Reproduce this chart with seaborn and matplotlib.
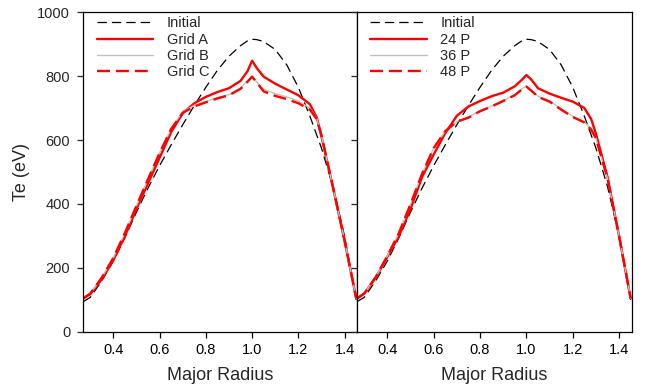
import matplotlib
matplotlib.use("Agg")
import matplotlib.pyplot as plt
import seaborn as sns
import pandas as pd

radius = [0.27, 0.30, 0.35, 0.40, 0.45, 0.50, 0.55, 0.60, 0.65, 0.70, 0.75, 0.80,
          0.85, 0.90, 0.95, 0.98, 1.00, 1.02, 1.05, 1.10, 1.15, 1.20, 1.25, 1.28,
          1.30, 1.35, 1.40, 1.45]

initial = [95, 108, 160, 222, 295, 375, 450, 520, 585, 648, 708, 765,
           818, 862, 895, 910, 915, 914, 908, 883, 835, 765, 675, 615,
           575, 455, 300, 100]

grid_a = [105, 118, 165, 225, 300, 385, 465, 545, 625, 684, 715, 735,
          750, 762, 785, 815, 848, 825, 798, 776, 758, 740, 712, 670,
          612, 452, 285, 108]
grid_b = [105, 120, 170, 232, 310, 395, 478, 560, 635, 690, 708, 720,
          733, 742, 762, 785, 800, 782, 758, 745, 735, 722, 700, 668,
          615, 452, 288, 106]
grid_c = [105, 120, 170, 232, 310, 395, 478, 560, 635, 685, 705, 718,
          730, 740, 760, 782, 798, 780, 752, 738, 728, 715, 695, 665,
          615, 452, 288, 106]

p24 = [105, 120, 170, 235, 300, 385, 485, 555, 622, 676, 705, 722,
       737, 748, 768, 788, 803, 790, 762, 745, 732, 720, 700, 665,
       620, 485, 300, 105]
p36 = [105, 120, 172, 238, 310, 400, 495, 575, 628, 658, 672, 692,
       706, 723, 742, 760, 768, 756, 737, 722, 698, 674, 657, 634,
       606, 480, 300, 105]
p48 = [105, 120, 172, 238, 310, 400, 495, 575, 628, 657, 670, 690,
       705, 722, 740, 758, 767, 755, 735, 720, 695, 672, 655, 632,
       605, 480, 300, 105]

x_ticks = [0.4, 0.6, 0.8, 1.0, 1.2, 1.4]
y_ticks = [0, 200, 400, 600, 800, 1000]

sns.set_style("ticks")
plt.rcParams['font.family'] = ['Liberation Sans', 'DejaVu Sans']
plt.rcParams['axes.linewidth'] = 0.9

fig = plt.figure(figsize=(6.46, 3.90), dpi=100)
axL = fig.add_axes([0.128, 0.149, 0.425, 0.820])
axR = fig.add_axes([0.552, 0.149, 0.426, 0.820])

black_dash = (7.5, 4.0)
red_dash = (5.5, 2.5)

styles_left = [
    ("Initial", initial, dict(color="black", lw=0.9, dashes=black_dash)),
    ("Grid A", grid_a, dict(color="#ff0000", lw=1.7)),
    ("Grid B", grid_b, dict(color="#c0c0c0", lw=1.0)),
    ("Grid C", grid_c, dict(color="#ff0000", lw=1.7, dashes=red_dash)),
]
styles_right = [
    ("Initial", initial, dict(color="black", lw=0.9, dashes=black_dash)),
    ("24 P", p24, dict(color="#ff0000", lw=1.7)),
    ("36 P", p36, dict(color="#c0c0c0", lw=1.0)),
    ("48 P", p48, dict(color="#ff0000", lw=1.7, dashes=red_dash)),
]

for ax, styles in ((axL, styles_left), (axR, styles_right)):
    for label, vals, st in styles:
        st = dict(st)
        dashes = st.pop("dashes", None)
        df = pd.DataFrame({"r": radius, "t": vals})
        line_kw = {}
        if dashes is not None:
            line_kw["dashes"] = dashes
        sns.lineplot(data=df, x="r", y="t", ax=ax, label=label, sort=False,
                     color=st["color"], linewidth=st["lw"], **line_kw)
    ax.set_xlim(0.267, 1.455)
    ax.set_ylim(0, 1000)
    ax.set_xticks(x_ticks)
    ax.set_xticklabels([f"{v:.1f}" for v in x_ticks])
    ax.set_yticks(y_ticks)
    ax.set_xlabel("Major Radius", fontsize=13, labelpad=7)
    ax.tick_params(axis='x', direction='out', length=4, width=0.9, labelsize=10.5, pad=4, colors='black')
    for s in ax.spines.values():
        s.set_visible(True)
        s.set_color('black')
    ax.legend(loc="upper left", frameon=False, fontsize=10.5, handlelength=3.85,
              handletextpad=0.95, labelspacing=0.155, borderaxespad=0.55,
              bbox_to_anchor=(0.0, 1.03))

axL.set_ylabel("Te (eV)", fontsize=13, labelpad=5)
axL.tick_params(axis='y', direction='out', length=4, width=0.9, labelsize=10.5, pad=5, left=True, right=False)
axR.set_ylabel("")
axR.tick_params(axis='y', direction='out', length=4, width=0.9, left=True, right=False, labelleft=False)

fig.savefig("out.png", dpi=100, facecolor="white")
